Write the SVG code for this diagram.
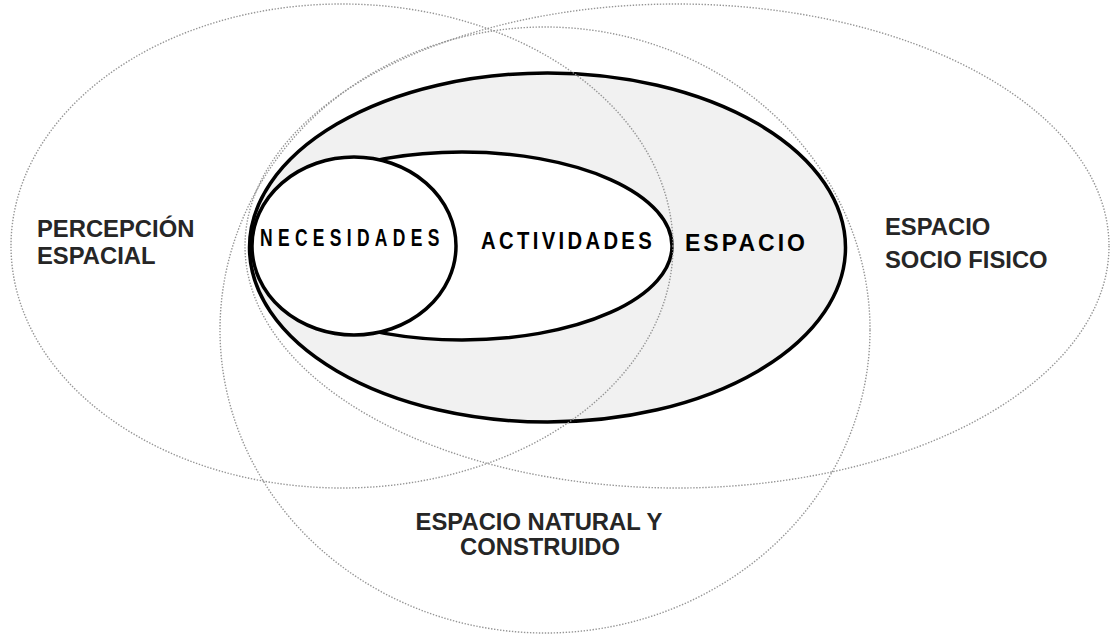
<svg xmlns="http://www.w3.org/2000/svg" width="1110" height="636" viewBox="0 0 1110 636">
<style>
.dot{fill:none;stroke:#959595;stroke-width:1.4;stroke-dasharray:1.4 1.6}
.blk{stroke:#000;stroke-width:3.5}
.lbl{font-family:"Liberation Sans",Arial,sans-serif;font-weight:bold;font-size:23.8px;fill:#262626}
.in{font-family:"Liberation Sans",Arial,sans-serif;font-weight:bold;font-size:23px;fill:#000}
</style>
<rect width="1110" height="636" fill="#fff"/>
<g id="espacio">
<ellipse class="blk" cx="547.5" cy="247.5" rx="298" ry="174.5" fill="#f1f1f1"/>
<text class="in" x="685" y="251" textLength="120" lengthAdjust="spacing">ESPACIO</text>
</g>
<g id="actividades">
<ellipse class="blk" cx="462" cy="246" rx="210" ry="94" fill="#fff" stroke-width="3"/>
<text class="in" transform="translate(481,249) scale(0.88,1)" x="0" y="0" textLength="194" lengthAdjust="spacing">ACTIVIDADES</text>
</g>
<g id="necesidades">
<ellipse class="blk" cx="354" cy="246" rx="102" ry="89" fill="#fff" stroke-width="3"/>
<text class="in" transform="translate(260,246) scale(0.76,1)" x="0" y="0" textLength="236" lengthAdjust="spacing">NECESIDADES</text>
</g>
<g id="percepcion-espacial">
<ellipse class="dot" cx="342" cy="246" rx="331" ry="242"/>
<text class="lbl" x="37" y="237">PERCEPCIÓN</text>
<text class="lbl" x="37" y="264">ESPACIAL</text>
</g>
<g id="espacio-socio-fisico">
<ellipse class="dot" cx="677" cy="246" rx="432" ry="242"/>
<text class="lbl" x="885" y="235">ESPACIO</text>
<text class="lbl" x="885" y="268">SOCIO FISICO</text>
</g>
<g id="espacio-natural-construido">
<ellipse class="dot" cx="545" cy="330" rx="325" ry="303"/>
<text class="lbl" x="539" y="530" text-anchor="middle">ESPACIO NATURAL Y</text>
<text class="lbl" x="540" y="555" text-anchor="middle">CONSTRUIDO</text>
</g>
<g id="connectors"/>
</svg>
